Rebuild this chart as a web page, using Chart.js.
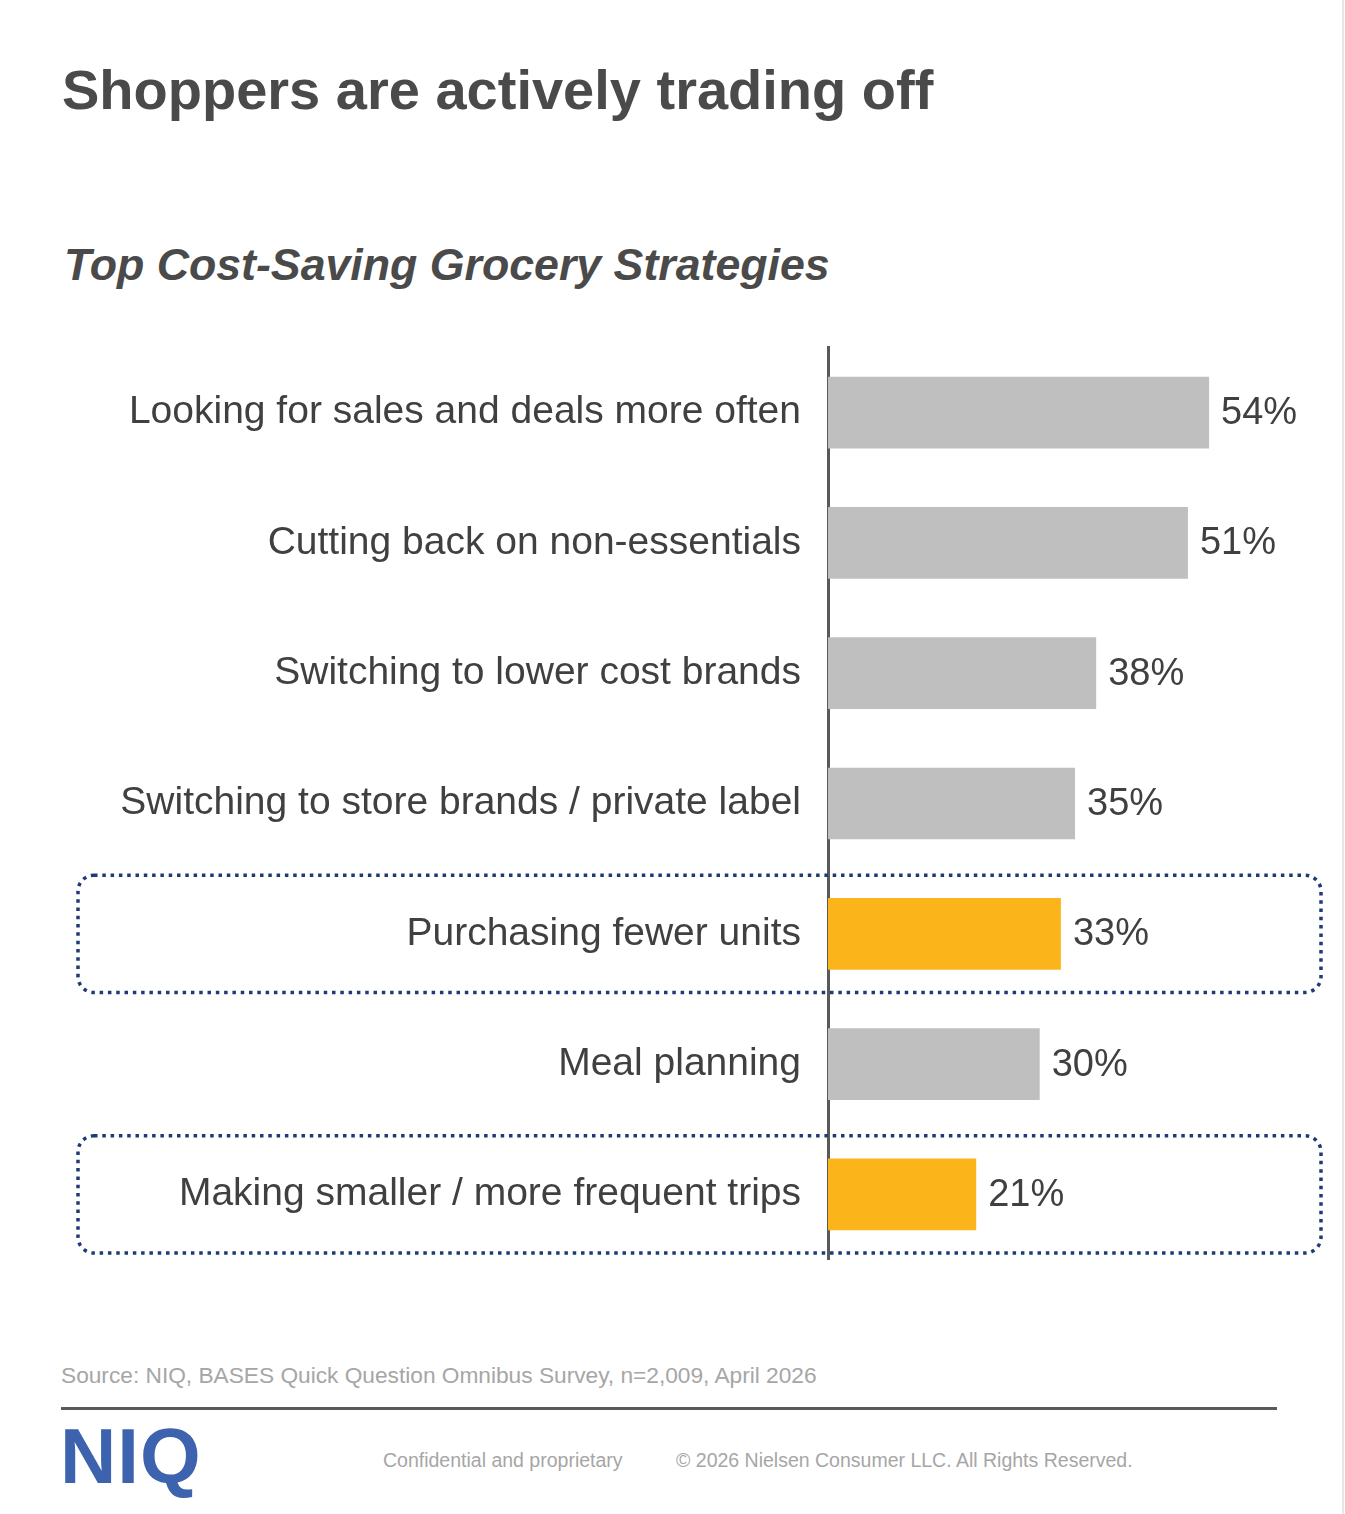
<!DOCTYPE html>
<html lang="en">
<head>
<meta charset="UTF-8">
<title>Top Cost-Saving Grocery Strategies</title>
<script src="https://cdn.jsdelivr.net/npm/chart.js"></script>
<style>
    html, body { margin: 0; padding: 0; background: #fff; }
    body { width: 1345px; height: 1514px; position: relative; overflow: hidden; font-family: "Liberation Sans", Arial, sans-serif; }
    .titulo { position: absolute; left: 62px; top: 57px; margin: 0; font-size: 56px; font-weight: bold; color: #4a4a4a; }
    .subtitulo { position: absolute; left: 64px; top: 240px; margin: 0; font-size: 44.7px; font-weight: bold; font-style: italic; color: #4a4a4a; }
    .grafico { position: absolute; left: 0; top: 297px; width: 1345px; height: 1013px; }
    .fonte { position: absolute; left: 61px; top: 1362px; font-size: 22.7px; color: #a6a6a6; }
    .linha { position: absolute; left: 61px; top: 1407px; width: 1216px; height: 3px; background: #595959; }
    .logo { position: absolute; left: 60px; top: 1411px; font-size: 78px; font-weight: bold; color: #3d62ae; letter-spacing: 1px; }
    .rodape { position: absolute; top: 1449px; font-size: 19.5px; color: #a6a6a6; }
    .borda { position: absolute; left: 1342px; top: 0; width: 2px; height: 1514px; background: #e6e6e6; }
</style>
</head>
<body>
    <h1 class="titulo">Shoppers are actively trading off</h1>
    <h2 class="subtitulo">Top Cost-Saving Grocery Strategies</h2>

    <div class="grafico">
        <canvas id="myChart"></canvas>
    </div>

    <div class="fonte">Source: NIQ, BASES Quick Question Omnibus Survey, n=2,009, April 2026</div>
    <div class="linha"></div>
    <div class="logo">NIQ</div>
    <div class="rodape" style="left: 383px;">Confidential and proprietary</div>
    <div class="rodape" style="left: 676px;">&copy; 2026 Nielsen Consumer LLC. All Rights Reserved.</div>
    <div class="borda"></div>

<script>
    // dados do grafico
    const estrategias = [
        'Looking for sales and deals more often',
        'Cutting back on non-essentials',
        'Switching to lower cost brands',
        'Switching to store brands / private label',
        'Purchasing fewer units',
        'Meal planning',
        'Making smaller / more frequent trips'
    ];
    const percentuais = [54, 51, 38, 35, 33, 30, 21];
    const destaques = [false, false, false, false, true, false, true];

    const cinza = '#bfbfbf';
    const amarelo = '#fbb41a';
    const azul = '#1f3a75';

    const cores = destaques.map(d => d ? amarelo : cinza);

    // caixas pontilhadas em volta das linhas destacadas
    const caixas = {
        id: 'caixas',
        beforeDatasetsDraw(chart) {
            const ctx = chart.ctx;
            const y = chart.scales.y;
            const passo = y.getPixelForValue(1) - y.getPixelForValue(0);
            ctx.save();
            ctx.strokeStyle = azul;
            ctx.lineWidth = 3.5;
            ctx.setLineDash([3.5, 4.8]);
            destaques.forEach((d, i) => {
                if (!d) return;
                const meio = y.getPixelForValue(i);
                const topo = meio - passo * 0.45;
                const alt = passo * 0.9;
                ctx.beginPath();
                ctx.roundRect(78, topo, 1243, alt, 16);
                ctx.stroke();
            });
            ctx.restore();
        }
    };

    // rotulos de porcentagem no fim das barras
    const rotulos = {
        id: 'rotulos',
        afterDatasetsDraw(chart) {
            const ctx = chart.ctx;
            const meta = chart.getDatasetMeta(0);
            ctx.save();
            ctx.font = '38px "Liberation Sans", Arial, sans-serif';
            ctx.fillStyle = '#404040';
            ctx.textAlign = 'left';
            ctx.textBaseline = 'middle';
            meta.data.forEach((barra, i) => {
                ctx.fillText(percentuais[i] + '%', barra.x + 12, barra.y + 1);
            });
            ctx.restore();
        }
    };

    const data = {
        labels: estrategias,
        datasets: [{
            data: percentuais,
            backgroundColor: cores,
            borderWidth: 0,
            categoryPercentage: 1,
            barPercentage: 0.55
        }]
    };

    const config = {
        type: 'bar',
        data: data,
        options: {
            indexAxis: 'y',
            responsive: true,
            maintainAspectRatio: false,
            animation: false,
            layout: { padding: { top: 15, bottom: 20, left: 0, right: 23 } },
            plugins: {
                legend: { display: false },
                tooltip: { enabled: false }
            },
            scales: {
                x: {
                    display: false,
                    min: 0,
                    max: 70
                },
                y: {
                    afterFit(scale) { scale.width = 828; },
                    grid: { display: false, drawTicks: false },
                    border: { display: true, color: '#595959', width: 3 },
                    ticks: {
                        padding: 27,
                        color: '#404040',
                        font: { family: '"Liberation Sans", Arial, sans-serif', size: 39 }
                    }
                }
            }
        },
        plugins: [caixas, rotulos]
    };

    const myChart = new Chart(document.getElementById('myChart'), config);
</script>
</body>
</html>
